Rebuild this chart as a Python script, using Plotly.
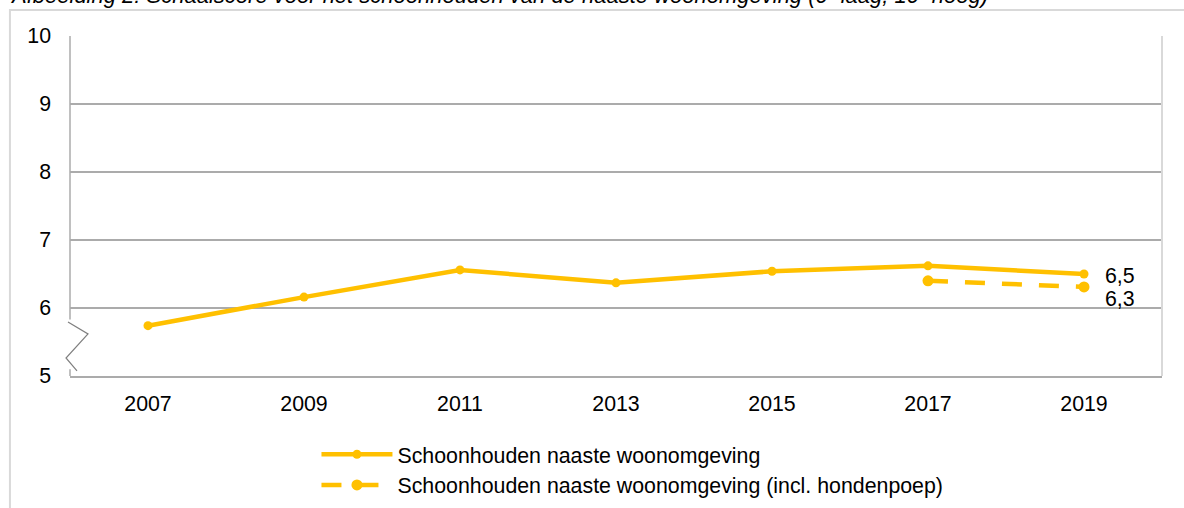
import plotly.graph_objects as go

years = ["2007", "2009", "2011", "2013", "2015", "2017", "2019"]
score_main = [5.74, 6.16, 6.56, 6.37, 6.54, 6.62, 6.5]
years_incl = ["2017", "2019"]
score_incl = [6.4, 6.31]
label_main = "6,5"
label_incl = "6,3"
name_main = "Schoonhouden naaste woonomgeving"
name_incl = "Schoonhouden naaste woonomgeving (incl. hondenpoep)"
title_text = "Afbeelding 2: Schaalscore voor het schoonhouden van de naaste woonomgeving (0=laag; 10=hoog)"
y_ticks = [5, 6, 7, 8, 9, 10]

GOLD = "#FFC000"
GRID = "#ABABAB"
FRAME = "#D9D9D9"
FONT = "Liberation Sans, Arial, sans-serif"
FS = 21.33

fig = go.Figure()
fig.add_trace(go.Scatter(
    x=years, y=score_main, name=name_main, mode="lines+markers",
    line=dict(color=GOLD, width=4.5),
    marker=dict(color=GOLD, size=9),
))
fig.add_trace(go.Scatter(
    x=years_incl, y=score_incl, name=name_incl, mode="lines+markers",
    line=dict(color=GOLD, width=4.5, dash="20px,17px"),
    marker=dict(color=GOLD, size=11),
))

last_idx = years.index(years_incl[-1])
fig.add_annotation(x=last_idx, y=score_main[-1], text=label_main, showarrow=False,
                   xanchor="left", xshift=19, yshift=-2,
                   font=dict(family=FONT, size=FS, color="#000"))
fig.add_annotation(x=last_idx, y=score_incl[-1], text=label_incl, showarrow=False,
                   xanchor="left", xshift=19, yshift=-12,
                   font=dict(family=FONT, size=FS, color="#000"))

fig.add_annotation(x=-0.056, y=1.078, xref="paper", yref="paper", text=title_text,
                   showarrow=False, xanchor="left", yanchor="bottom", borderpad=0,
                   font=dict(family=FONT, size=22, color="#000", style="italic"))

shapes = [
    # outer chart frame
    dict(type="rect", xref="paper", yref="paper", x0=-0.055, x1=1.1, y0=-0.45, y1=1.0765,
         line=dict(color=FRAME, width=2), layer="below"),
    # right border of plot area
    dict(type="line", xref="paper", yref="paper", x0=1, x1=1, y0=0, y1=1,
         line=dict(color=FRAME, width=2)),
    # left axis segments with break
    dict(type="line", xref="paper", yref="y", x0=0, x1=0, y0=5.83, y1=10,
         line=dict(color=GRID, width=1.5)),
    dict(type="line", xref="paper", yref="y", x0=0, x1=0, y0=5, y1=5.1,
         line=dict(color=GRID, width=1.5)),
    # axis break zigzag
    dict(type="path", xref="paper", yref="y",
         path="M -0.00183,5.794 L 0.01648,5.618 L -0.00366,5.265 L 0.00641,5.074",
         line=dict(color="#7F7F7F", width=1.2)),
]
fig.update_layout(shapes=shapes)

fig.update_layout(
    width=1184, height=508,
    margin=dict(l=70, r=22, t=36, b=132, autoexpand=False),
    paper_bgcolor="white", plot_bgcolor="white",
    font=dict(family=FONT, size=FS, color="#000"),
    showlegend=True,
    legend=dict(orientation="v", x=0.2257, xanchor="left", y=-0.382, yanchor="bottom",
                font=dict(family=FONT, size=FS, color="#000"),
                itemwidth=71, tracegroupgap=0, bgcolor="rgba(0,0,0,0)"),
    xaxis=dict(type="category", range=[-0.5, 6.5], showgrid=False,
               showline=True, linecolor=GRID, linewidth=1.5, mirror=False,
               ticks="", ticklabelstandoff=8, tickfont=dict(size=FS)),
    yaxis=dict(range=[5, 10], tickvals=y_ticks, showgrid=True, gridcolor=GRID,
               gridwidth=1.5, showline=False, zeroline=False, ticks="",
               ticklabelstandoff=18, tickfont=dict(size=FS)),
)

fig.write_html("out.html", config={"displayModeBar": False},
               post_script="document.body.style.margin='0';document.body.style.overflow='hidden';")
